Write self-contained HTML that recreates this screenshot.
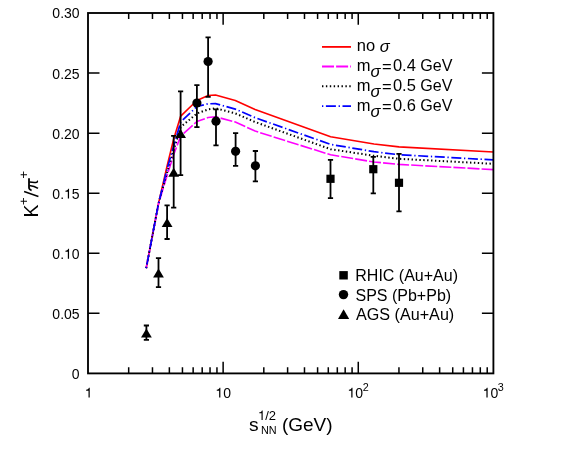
<!DOCTYPE html>
<html><head><meta charset="utf-8"><title>K+/pi+</title>
<style>html,body{margin:0;padding:0;background:#fff;}svg{display:block;will-change:transform;}text{font-family:"Liberation Sans",sans-serif;fill:#000;}</style>
</head><body>
<svg width="581" height="452" viewBox="0 0 581 452">
<rect x="0" y="0" width="581" height="452" fill="#ffffff"/>
<polyline points="146.2,268.2 158.5,203.5 167.1,166.0 173.7,139.0 180.7,116.1 196.9,100.5 208.1,95.5 215.5,95.0 235.3,100.5 255.1,109.4 330.6,136.8 374.0,144.0 399.0,146.9 493.4,152.0" fill="none" stroke="#ff0000" stroke-width="1.6" stroke-linejoin="round"/>
<polyline points="146.2,268.2 158.5,204.0 167.1,175.5 173.7,154.5 180.7,136.0 196.9,121.5 208.1,117.5 215.5,116.8 235.3,122.0 255.1,131.1 330.6,154.8 374.0,162.0 399.0,164.4 493.4,169.6" fill="none" stroke="#ff00ff" stroke-width="1.6" stroke-linejoin="round" stroke-dasharray="12 2.1"/>
<polyline points="146.2,268.2 158.5,203.5 167.1,172.5 173.7,150.0 180.7,127.0 196.9,113.5 208.1,109.4 215.5,108.2 235.3,113.4 255.1,122.0 330.6,149.2 374.0,155.8 399.0,158.8 493.4,163.8" fill="none" stroke="#000000" stroke-width="2.0" stroke-linejoin="round" stroke-dasharray="1.4 2.5"/>
<polyline points="146.2,268.2 158.5,203.5 167.1,169.0 173.7,146.0 180.7,122.0 196.9,106.5 208.1,103.8 215.5,103.6 235.3,109.1 255.1,117.7 330.6,144.4 374.0,151.7 399.0,154.7 493.4,159.9" fill="none" stroke="#0000ff" stroke-width="1.7" stroke-linejoin="round" stroke-dasharray="1.3 2.6 10 2.7"/>
<rect x="88.0" y="13.0" width="405.4" height="360.4" fill="none" stroke="#000" stroke-width="1.85"/>
<path d="M88.0,313.3333333333333h11.5 M493.4,313.3333333333333h-11.5 M88.0,253.26666666666665h11.5 M493.4,253.26666666666665h-11.5 M88.0,193.2h11.5 M493.4,193.2h-11.5 M88.0,133.13333333333333h11.5 M493.4,133.13333333333333h-11.5 M88.0,73.06666666666666h11.5 M493.4,73.06666666666666h-11.5 M128.68,373.4v-6.1 M128.68,13.0v6.1 M152.47,373.4v-6.1 M152.47,13.0v6.1 M169.36,373.4v-6.1 M169.36,13.0v6.1 M182.45,373.4v-6.1 M182.45,13.0v6.1 M193.15,373.4v-6.1 M193.15,13.0v6.1 M202.20,373.4v-6.1 M202.20,13.0v6.1 M210.04,373.4v-6.1 M210.04,13.0v6.1 M216.95,373.4v-6.1 M216.95,13.0v6.1 M223.13,373.4v-11.7 M223.13,13.0v11.7 M263.81,373.4v-6.1 M263.81,13.0v6.1 M287.61,373.4v-6.1 M287.61,13.0v6.1 M304.49,373.4v-6.1 M304.49,13.0v6.1 M317.59,373.4v-6.1 M317.59,13.0v6.1 M328.29,373.4v-6.1 M328.29,13.0v6.1 M337.33,373.4v-6.1 M337.33,13.0v6.1 M345.17,373.4v-6.1 M345.17,13.0v6.1 M352.08,373.4v-6.1 M352.08,13.0v6.1 M358.27,373.4v-11.7 M358.27,13.0v11.7 M398.95,373.4v-6.1 M398.95,13.0v6.1 M422.74,373.4v-6.1 M422.74,13.0v6.1 M439.63,373.4v-6.1 M439.63,13.0v6.1 M452.72,373.4v-6.1 M452.72,13.0v6.1 M463.42,373.4v-6.1 M463.42,13.0v6.1 M472.47,373.4v-6.1 M472.47,13.0v6.1 M480.30,373.4v-6.1 M480.30,13.0v6.1 M487.22,373.4v-6.1 M487.22,13.0v6.1" stroke="#000" stroke-width="1.5" fill="none"/>
<text x="79.6" y="378.8" font-size="14" text-anchor="end">0</text>
<text x="79.6" y="318.7" font-size="14" text-anchor="end">0.05</text>
<text x="52.36" y="258.7" font-size="14">0.</text>
<path transform="translate(64.03,258.67) scale(0.01400,-0.01400)" d="M271,0H359V703H301C277,612 232,580 101,562V498H271Z" fill="#000"/>
<text x="71.82" y="258.7" font-size="14">0</text>
<text x="52.36" y="198.6" font-size="14">0.</text>
<path transform="translate(64.03,198.60) scale(0.01400,-0.01400)" d="M271,0H359V703H301C277,612 232,580 101,562V498H271Z" fill="#000"/>
<text x="71.82" y="198.6" font-size="14">5</text>
<text x="79.6" y="138.5" font-size="14" text-anchor="end">0.20</text>
<text x="79.6" y="78.5" font-size="14" text-anchor="end">0.25</text>
<text x="79.6" y="18.4" font-size="14" text-anchor="end">0.30</text>
<path transform="translate(84.71,397.60) scale(0.01400,-0.01400)" d="M271,0H359V703H301C277,612 232,580 101,562V498H271Z" fill="#000"/>
<path transform="translate(215.35,397.60) scale(0.01400,-0.01400)" d="M271,0H359V703H301C277,612 232,580 101,562V498H271Z" fill="#000"/>
<text x="223.13" y="397.6" font-size="14">0</text>
<path transform="translate(347.48,397.60) scale(0.01400,-0.01400)" d="M271,0H359V703H301C277,612 232,580 101,562V498H271Z" fill="#000"/>
<text x="355.26" y="397.6" font-size="14">0<tspan dy="-6.6" dx="-0.4" font-size="10.8">2</tspan></text>
<path transform="translate(482.61,397.60) scale(0.01400,-0.01400)" d="M271,0H359V703H301C277,612 232,580 101,562V498H271Z" fill="#000"/>
<text x="490.40" y="397.6" font-size="14">0<tspan dy="-6.6" dx="-0.4" font-size="10.8">3</tspan></text>
<text x="249" y="430.8" font-size="19.2">s</text>
<path transform="translate(258.00,420.00) scale(0.01302,-0.01360)" d="M271,0H359V703H301C277,612 232,580 101,562V498H271Z" fill="#000"/>
<text x="265.24" y="420.0" font-size="13.6" textLength="10.86" lengthAdjust="spacingAndGlyphs">/2</text>
<text x="260.9" y="433.8" font-size="10.85">NN</text>
<text x="281.9" y="430.8" font-size="19.0">(GeV)</text>
<g transform="translate(38.2,217.4) rotate(-90)">
<text x="0" y="0" font-size="19.5">K</text>
<text x="12.1" y="-10.4" font-size="13.5">+</text>
<path d="M20.9,0.2L25.9,-14.1" stroke="#000" stroke-width="1.45" fill="none"/>
<g transform="translate(26.8,-0.2) scale(1,-1)" fill="none" stroke="#000" stroke-linecap="butt">
<path d="M0.3,6.4Q0.9,9 3,9H12.3" stroke-width="1.8"/>
<path d="M5.2,8.6Q4.8,3.5 2.2,0" stroke-width="1.5"/>
<path d="M8.5,8.6Q7.9,3.2 8.4,1.2Q8.8,0.2 9.8,0.9" stroke-width="1.5"/>
</g>
<text x="38.7" y="-10.4" font-size="13.5">+</text>
</g>
<path d="M196.9,85.1V127.1 M194.3,85.1h5.2 M194.3,127.1h5.2" stroke="#000" stroke-width="1.8" fill="none"/>
<circle cx="196.9" cy="103.0" r="4.6" fill="#000"/>
<path d="M208.1,37.4V96.8 M205.5,37.4h5.2 M205.5,96.8h5.2" stroke="#000" stroke-width="1.8" fill="none"/>
<circle cx="208.1" cy="61.5" r="4.6" fill="#000"/>
<path d="M216.0,109.4V145.4 M213.4,109.4h5.2 M213.4,145.4h5.2" stroke="#000" stroke-width="1.8" fill="none"/>
<circle cx="216.0" cy="121.2" r="4.6" fill="#000"/>
<path d="M235.6,133.1V165.8 M233.0,133.1h5.2 M233.0,165.8h5.2" stroke="#000" stroke-width="1.8" fill="none"/>
<circle cx="235.6" cy="151.3" r="4.6" fill="#000"/>
<path d="M255.4,151.0V181.3 M252.8,151.0h5.2 M252.8,181.3h5.2" stroke="#000" stroke-width="1.8" fill="none"/>
<circle cx="255.4" cy="165.8" r="4.6" fill="#000"/>
<path d="M330.5,159.9V198.1 M327.9,159.9h5.2 M327.9,198.1h5.2" stroke="#000" stroke-width="1.8" fill="none"/>
<rect x="326.4" y="174.7" width="8.2" height="8.2" fill="#000"/>
<path d="M373.3,156.9V193.3 M370.7,156.9h5.2 M370.7,193.3h5.2" stroke="#000" stroke-width="1.8" fill="none"/>
<rect x="369.2" y="165.1" width="8.2" height="8.2" fill="#000"/>
<path d="M399.0,153.9V211.3 M396.4,153.9h5.2 M396.4,211.3h5.2" stroke="#000" stroke-width="1.8" fill="none"/>
<rect x="394.9" y="178.7" width="8.2" height="8.2" fill="#000"/>
<path d="M146.4,325.5V339.9 M143.8,325.5h5.2 M143.8,339.9h5.2" stroke="#000" stroke-width="1.8" fill="none"/>
<path d="M146.4,328.4L151.8,337.4H141.0Z" fill="#000"/>
<path d="M158.5,258.2V287.1 M155.9,258.2h5.2 M155.9,287.1h5.2" stroke="#000" stroke-width="1.8" fill="none"/>
<path d="M158.5,268.5L163.9,277.5H153.1Z" fill="#000"/>
<path d="M167.1,205.4V239.0 M164.5,205.4h5.2 M164.5,239.0h5.2" stroke="#000" stroke-width="1.8" fill="none"/>
<path d="M167.1,218.0L172.5,227.0H161.7Z" fill="#000"/>
<path d="M173.7,135.8V207.7 M171.1,135.8h5.2 M171.1,207.7h5.2" stroke="#000" stroke-width="1.8" fill="none"/>
<path d="M173.7,167.7L179.1,176.7H168.3Z" fill="#000"/>
<path d="M180.6,91.3V175.2 M178.0,91.3h5.2 M178.0,175.2h5.2" stroke="#000" stroke-width="1.8" fill="none"/>
<path d="M180.6,129.0L186.0,138.0H175.2Z" fill="#000"/>
<path d="M322.0,46.9H351.0" stroke="#ff0000" stroke-width="1.8"/>
<path d="M322.0,66.5H351.0" stroke="#ff00ff" stroke-width="1.8" stroke-dasharray="12 2.1"/>
<path d="M322.0,86.3H351.0" stroke="#000" stroke-width="2" stroke-dasharray="1.4 2.5"/>
<path d="M322.0,106.2H351.0" stroke="#0000ff" stroke-width="1.8" stroke-dasharray="1.3 2.6 10 2.7"/>
<text x="356.8" y="51.2" font-size="16.5">no <tspan font-style="italic" dy="0.7">σ</tspan></text>
<text x="356.8" y="70.7" font-size="16.5">m</text>
<text x="370.6" y="76.9" font-size="16.5" font-style="italic">σ</text>
<text x="382.0" y="72.1" font-size="16.5">=</text>
<text x="392.9" y="70.7" font-size="16.5">0.4</text>
<text x="420.3" y="70.7" font-size="16.1">GeV</text>
<text x="356.8" y="90.7" font-size="16.5">m</text>
<text x="370.6" y="96.9" font-size="16.5" font-style="italic">σ</text>
<text x="382.0" y="92.1" font-size="16.5">=</text>
<text x="392.9" y="90.7" font-size="16.5">0.5</text>
<text x="420.3" y="90.7" font-size="16.1">GeV</text>
<text x="356.8" y="110.7" font-size="16.5">m</text>
<text x="370.6" y="116.9" font-size="16.5" font-style="italic">σ</text>
<text x="382.0" y="112.1" font-size="16.5">=</text>
<text x="392.9" y="110.7" font-size="16.5">0.6</text>
<text x="420.3" y="110.7" font-size="16.1">GeV</text>
<rect x="339.3" y="271.1" width="8.5" height="8.4" fill="#000"/>
<circle cx="343.5" cy="294.6" r="4.7" fill="#000"/>
<path d="M343.6,309.3L349.2,318.9H338.0Z" fill="#000"/>
<text x="355.3" y="281.4" font-size="16">RHIC (Au+Au)</text>
<text x="355.5" y="300.7" font-size="16">SPS (Pb+Pb)</text>
<text x="356.0" y="320.3" font-size="16.15">AGS (Au+Au)</text>
</svg></body></html>
